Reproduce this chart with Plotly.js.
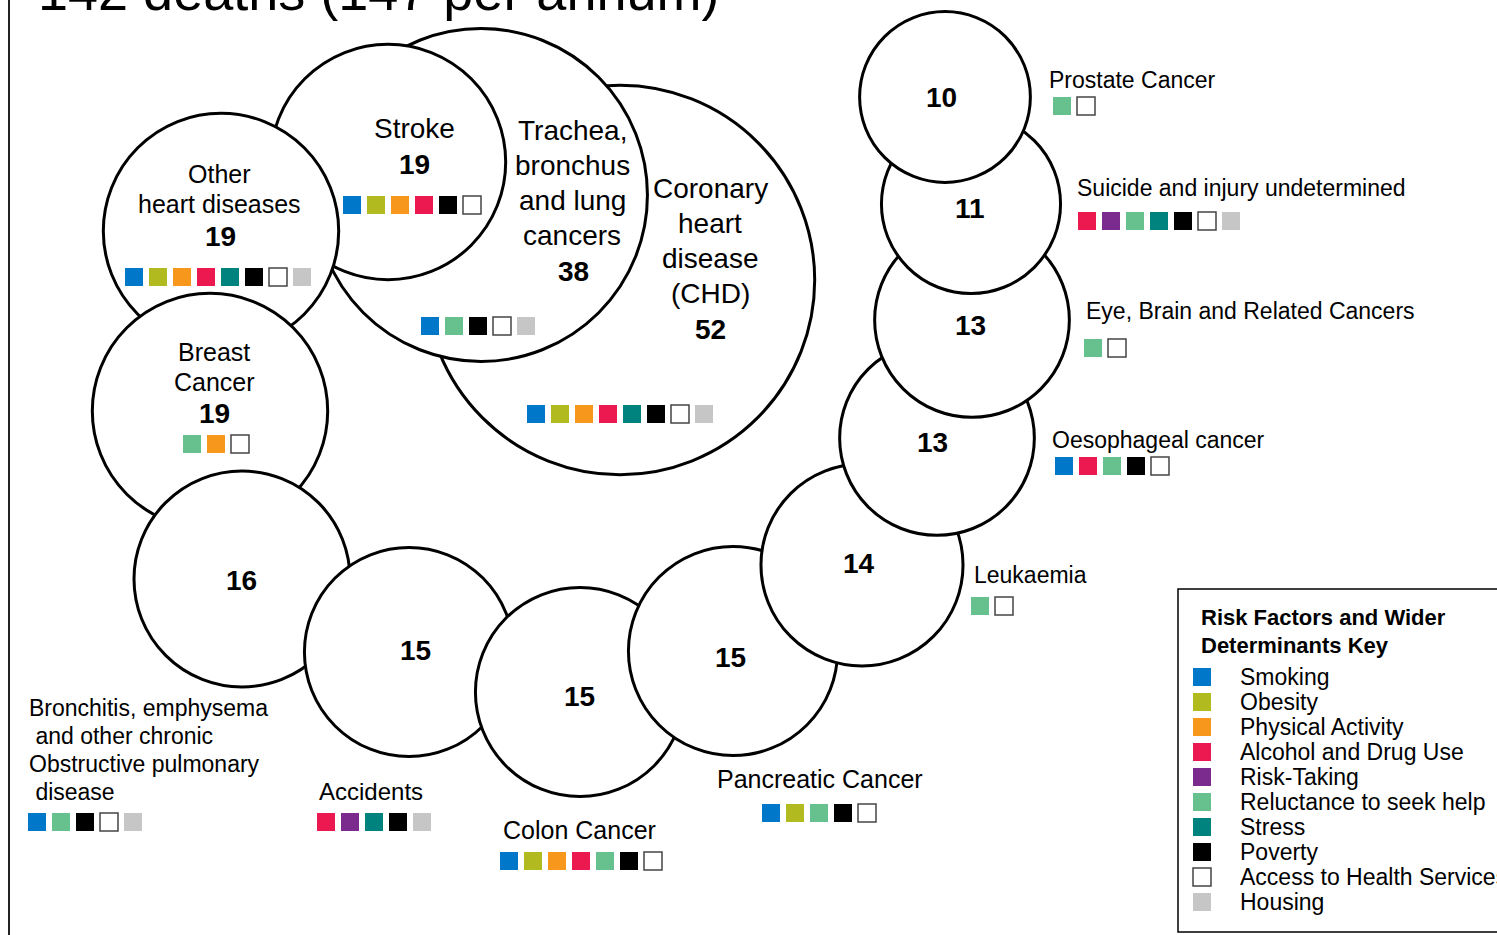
<!DOCTYPE html>
<html>
<head>
<meta charset="utf-8">
<script src="https://cdn.plot.ly/plotly-3.0.1.min.js"></script>
<style>html,body{margin:0;padding:0;background:#fff;}#chart{width:1497px;height:935px;}</style>
</head>
<body>
<div id="chart"></div>
<script>
// ---------------- DATA ----------------
const titleText = '142 deaths (147 per annum)';
const causes = ['Coronary heart disease (CHD)', 'Trachea, bronchus and lung cancers', 'Stroke',
  'Other heart diseases', 'Breast Cancer',
  'Bronchitis, emphysema and other chronic Obstructive pulmonary disease', 'Accidents',
  'Colon Cancer', 'Pancreatic Cancer', 'Leukaemia', 'Oesophageal cancer',
  'Eye, Brain and Related Cancers', 'Suicide and injury undetermined', 'Prostate Cancer'];
const deaths = [52, 38, 19, 19, 19, 16, 15, 15, 15, 14, 13, 13, 11, 10];
const labelLines = [
  ['Coronary', 'heart', 'disease', '(CHD)'],
  ['Trachea,', 'bronchus', 'and lung', 'cancers'],
  ['Stroke'],
  ['Other', 'heart diseases'],
  ['Breast', 'Cancer'],
  ['Bronchitis, emphysema', '\u00a0and other chronic', 'Obstructive pulmonary', '\u00a0disease'],
  ['Accidents'],
  ['Colon Cancer'],
  ['Pancreatic Cancer'],
  ['Leukaemia'],
  ['Oesophageal cancer'],
  ['Eye, Brain and Related Cancers'],
  ['Suicide and injury undetermined'],
  ['Prostate Cancer']
];
const legendTitle = ['Risk Factors and Wider', 'Determinants Key'];
const riskFactors = ['Smoking', 'Obesity', 'Physical Activity', 'Alcohol and Drug Use', 'Risk-Taking',
  'Reluctance to seek help', 'Stress', 'Poverty', 'Access to Health Services', 'Housing'];
const causeRisks = [
  ['Smoking', 'Obesity', 'Physical Activity', 'Alcohol and Drug Use', 'Stress', 'Poverty', 'Access to Health Services', 'Housing'],
  ['Smoking', 'Reluctance to seek help', 'Poverty', 'Access to Health Services', 'Housing'],
  ['Smoking', 'Obesity', 'Physical Activity', 'Alcohol and Drug Use', 'Poverty', 'Access to Health Services'],
  ['Smoking', 'Obesity', 'Physical Activity', 'Alcohol and Drug Use', 'Stress', 'Poverty', 'Access to Health Services', 'Housing'],
  ['Reluctance to seek help', 'Physical Activity', 'Access to Health Services'],
  ['Smoking', 'Reluctance to seek help', 'Poverty', 'Access to Health Services', 'Housing'],
  ['Alcohol and Drug Use', 'Risk-Taking', 'Stress', 'Poverty', 'Housing'],
  ['Smoking', 'Obesity', 'Physical Activity', 'Alcohol and Drug Use', 'Reluctance to seek help', 'Poverty', 'Access to Health Services'],
  ['Smoking', 'Obesity', 'Reluctance to seek help', 'Poverty', 'Access to Health Services'],
  ['Reluctance to seek help', 'Access to Health Services'],
  ['Smoking', 'Alcohol and Drug Use', 'Reluctance to seek help', 'Poverty', 'Access to Health Services'],
  ['Reluctance to seek help', 'Access to Health Services'],
  ['Alcohol and Drug Use', 'Risk-Taking', 'Reluctance to seek help', 'Stress', 'Poverty', 'Access to Health Services', 'Housing'],
  ['Reluctance to seek help', 'Access to Health Services']
];

// ---------------- STYLE / LAYOUT ----------------
const riskColours = ['#0077C8', '#B1BA1F', '#F7981D', '#EC1850', '#7B2A8E', '#66C18E', '#00827F', '#000000', '#FFFFFF', '#C6C6C6'];
const FONT = 'Liberation Sans, Arial, sans-serif';
const K = 27; // px radius per sqrt(death)
// bubble centres (plot coordinates; axes are 1 unit = 1 px)
const bubbleX = [620, 481, 388, 221, 210, 242, 409, 580, 733, 862, 937, 972, 971, 945];
const bubbleY = [280, 195, 162, 231, 411, 579, 652, 692, 651, 565, 438, 320, 204, 97];
// label placement per cause
const place = [
  {tx: 710, ty: 188, step: 35, fs: 28, al: 'center', nx: 710, ny: 329, sx: 620, sy: 414, sal: 'center'},
  {tx: 572, ty: 130, step: 35, fs: 28, al: 'center', nx: 573, ny: 271, sx: 478, sy: 326, sal: 'center'},
  {tx: 414, ty: 128, step: 36, fs: 28, al: 'center', nx: 414, ny: 164, sx: 412, sy: 205, sal: 'center'},
  {tx: 219, ty: 174, step: 30, fs: 25, al: 'center', nx: 220, ny: 236, sx: 218, sy: 277, sal: 'center'},
  {tx: 214, ty: 352, step: 30, fs: 25, al: 'center', nx: 214, ny: 413, sx: 216, sy: 444, sal: 'center'},
  {tx: 27, ty: 708, step: 28, fs: 23, al: 'left', nx: 241, ny: 580, sx: 37, sy: 822, sal: 'left'},
  {tx: 317, ty: 791, step: 28, fs: 24, al: 'left', nx: 415, ny: 650, sx: 326, sy: 822, sal: 'left'},
  {tx: 579, ty: 830, step: 28, fs: 25, al: 'center', nx: 579, ny: 696, sx: 581, sy: 861, sal: 'center'},
  {tx: 820, ty: 779, step: 28, fs: 25, al: 'center', nx: 730, ny: 657, sx: 819, sy: 813, sal: 'center'},
  {tx: 972, ty: 575, step: 28, fs: 23, al: 'left', nx: 859, ny: 563, sx: 980, sy: 606, sal: 'left'},
  {tx: 1050, ty: 440, step: 28, fs: 23, al: 'left', nx: 932, ny: 442, sx: 1064, sy: 466, sal: 'left'},
  {tx: 1084, ty: 311, step: 28, fs: 23, al: 'left', nx: 970, ny: 325, sx: 1093, sy: 348, sal: 'left'},
  {tx: 1075, ty: 188, step: 28, fs: 23, al: 'left', nx: 970, ny: 208, sx: 1087, sy: 221, sal: 'left'},
  {tx: 1047, ty: 80, step: 28, fs: 23, al: 'left', nx: 941, ny: 97, sx: 1062, sy: 106, sal: 'left'}
];
const SQ = 18, SQSTEP = 24;
const legendBox = {x0: 1178, y0: 589, x1: 1520, y1: 932, tx: 1199, ty: 617, tstep: 28, sqx: 1202, sy: 677, step: 25, lx: 1238};
const TY = 0; // vertical text nudge

// ---------------- BUILD ----------------
const traces = [];
// bubbles (drawn in order, later ones on top)
traces.push({
  type: 'scatter', mode: 'markers', x: bubbleX, y: bubbleY, text: causes, hoverinfo: 'skip',
  marker: {size: deaths.map(v => 2 * K * Math.sqrt(v)), color: '#ffffff', opacity: 1,
    line: {color: '#000000', width: 3}}
});

// risk-factor squares
const sqX = [], sqY = [], sqC = [], sqLW = [], sqLC = [];
function pushSquare(x, y, rf) {
  const idx = riskFactors.indexOf(rf);
  sqX.push(x); sqY.push(y); sqC.push(riskColours[idx]);
  const white = riskColours[idx] === '#FFFFFF';
  sqLW.push(white ? 1.5 : 0); sqLC.push(white ? '#444444' : riskColours[idx]);
}
causeRisks.forEach((list, i) => {
  const p = place[i];
  const n = list.length;
  const x0 = p.sal === 'center' ? p.sx - (n - 1) * SQSTEP / 2 : p.sx;
  list.forEach((rf, j) => pushSquare(x0 + j * SQSTEP, p.sy, rf));
});
riskFactors.forEach((rf, i) => pushSquare(legendBox.sqx, legendBox.sy + i * legendBox.step, rf));
traces.push({
  type: 'scatter', mode: 'markers', x: sqX, y: sqY, hoverinfo: 'skip',
  marker: {symbol: 'square', size: SQ, color: sqC, line: {width: sqLW, color: sqLC}}
});

const annotations = [];
function ann(x, y, text, size, align, bold) {
  annotations.push({x: x, y: y + TY, xref: 'x', yref: 'y', text: bold ? '<b>' + text + '</b>' : text,
    showarrow: false, xanchor: align, yanchor: 'middle', align: align,
    font: {family: FONT, size: size, color: '#000000'}});
}
labelLines.forEach((lines, i) => {
  const p = place[i];
  lines.forEach((ln, j) => ann(p.tx, p.ty + j * p.step, ln, p.fs, p.al, false));
  ann(p.nx, p.ny, String(deaths[i]), 28, 'center', true);
});
legendTitle.forEach((t, i) => ann(legendBox.tx, legendBox.ty + i * legendBox.tstep, t, 22, 'left', true));
riskFactors.forEach((rf, i) => ann(legendBox.lx, legendBox.sy + i * legendBox.step, rf, 23, 'left', false));
// title (cut off at top of the frame) in paper coordinates
annotations.push({x: 36 / 1497, y: 1 + 9 / 935, xref: 'paper', yref: 'paper', text: titleText,
  showarrow: false, xanchor: 'left', yanchor: 'middle',
  font: {family: FONT, size: 54, color: '#000000'}});

const shapes = [
  {type: 'rect', xref: 'x', yref: 'y', x0: legendBox.x0, x1: legendBox.x1, y0: legendBox.y0, y1: legendBox.y1,
    line: {color: '#000000', width: 1.5}, fillcolor: 'rgba(0,0,0,0)', layer: 'below'},
  {type: 'line', xref: 'x', yref: 'y', x0: 9, x1: 9, y0: -10, y1: 950, line: {color: '#222222', width: 2}}
];

const layout = {
  width: 1497, height: 935, margin: {l: 0, r: 0, t: 0, b: 0},
  paper_bgcolor: '#ffffff', plot_bgcolor: '#ffffff', showlegend: false,
  xaxis: {range: [0, 1497], visible: false, fixedrange: true},
  yaxis: {range: [935, 0], visible: false, fixedrange: true},
  annotations: annotations, shapes: shapes, hovermode: false
};
Plotly.newPlot('chart', traces, layout, {staticPlot: true, displayModeBar: false});
</script>
</body>
</html>
